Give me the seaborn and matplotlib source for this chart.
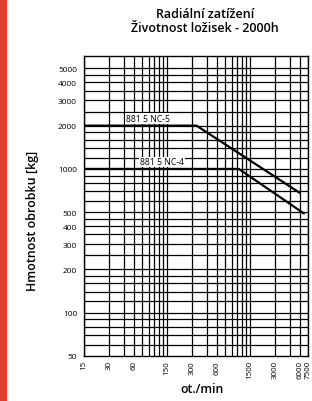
import matplotlib
matplotlib.use("Agg")
import matplotlib.pyplot as plt
import matplotlib.ticker as mticker
from matplotlib.patches import Rectangle
import numpy as np
import pandas as pd
import seaborn as sns

# ---- data ----
speed_nc5 = [15, 340, 6000]
load_nc5 = [2000, 2000, 680]
speed_nc4 = [15, 1100, 6700]
load_nc4 = [1000, 1000, 490]
series_names = ["881 5 NC-5", "881 5 NC-4"]

x_ticks = [15, 30, 60, 150, 300, 600, 1500, 3000, 6000, 7500]
y_ticks = [50, 100, 200, 300, 400, 500, 1000, 2000, 3000, 4000, 5000]
x_grid = [15 * k for k in range(1, 11)] + [150 * k for k in range(2, 11)] + [1500 * k for k in range(2, 6)]
y_grid = [60, 70, 80, 90, 100, 120, 140, 160, 180, 200, 250, 300, 350, 400, 450, 500,
          600, 700, 800, 900, 1000, 1200, 1400, 1600, 1800, 2000, 2500, 3000, 3500,
          4000, 4500, 5000]

title_text = "Radiální zatížení\nŽivotnost ložisek - 2000h"
x_label = "ot./min"
y_label = "Hmotnost obrobku [kg]"

df = pd.concat([
    pd.DataFrame({"speed": speed_nc5, "load": load_nc5, "series": series_names[0]}),
    pd.DataFrame({"speed": speed_nc4, "load": load_nc4, "series": series_names[1]}),
])

sns.set_style("white")
plt.rcParams["font.family"] = ["Open Sans", "DejaVu Sans"]
plt.rcParams["text.color"] = "black"
plt.rcParams["xtick.color"] = "black"
plt.rcParams["ytick.color"] = "black"

fig = plt.figure(figsize=(3.12, 4.02), dpi=100)
ax = fig.add_axes([84 / 312, 45 / 402, 224 / 312, 300 / 402])
ax.set_xscale("log")
ax.set_yscale("log")
ax.set_xlim(15, 7500)
ax.set_ylim(50, 6100)

for xv in x_grid:
    ax.axvline(xv, color="black", lw=0.9, zorder=1)
for yv in y_grid:
    ax.axhline(yv, color="black", lw=0.9, zorder=1)

sns.lineplot(data=df, x="speed", y="load", units="series", estimator=None,
             color="black", lw=1.6, ax=ax, zorder=3, legend=False, sort=False)

ax.text(89, 2080, series_names[0], fontsize=6.2, ha="center", va="bottom", zorder=4,
        color="black", bbox=dict(facecolor="white", edgecolor="none", pad=0.6))
ax.text(130, 1040, series_names[1], fontsize=6.2, ha="center", va="bottom", zorder=4,
        color="black", bbox=dict(facecolor="white", edgecolor="none", pad=0.6))

ax.xaxis.set_major_locator(mticker.FixedLocator(x_ticks))
ax.xaxis.set_major_formatter(mticker.FixedFormatter([str(v) for v in x_ticks]))
ax.xaxis.set_minor_locator(mticker.NullLocator())
ax.yaxis.set_major_locator(mticker.FixedLocator(y_ticks))
ax.yaxis.set_major_formatter(mticker.FixedFormatter([str(v) for v in y_ticks]))
ax.yaxis.set_minor_locator(mticker.NullLocator())
ax.tick_params(axis="x", labelsize=5.8, labelrotation=90, length=0, pad=3, labelcolor="black")
ax.tick_params(axis="y", labelsize=6, length=0, pad=5, labelcolor="black")
ax.set_xlabel("")
ax.set_ylabel("")

for s in ax.spines.values():
    s.set_visible(True)
    s.set_color("black")
    s.set_linewidth(1.0)

fig.text(205 / 312, 1 - 21 / 402, title_text, ha="center", va="center",
         fontsize=9.0, fontweight="semibold", linespacing=1.1, color="black")
fig.text(202 / 312, 1 - 390 / 402, x_label, ha="center", va="center",
         fontsize=8.8, fontweight="semibold", color="black")
fig.text(33 / 312, 1 - 221 / 402, y_label, ha="center", va="center",
         rotation=90, fontsize=9, fontweight="semibold", color="black")

fig.patches.append(Rectangle((0, 0), 7 / 312, 1, transform=fig.transFigure,
                             facecolor="#e53c30", edgecolor="none"))

fig.savefig("out.png", dpi=100)
